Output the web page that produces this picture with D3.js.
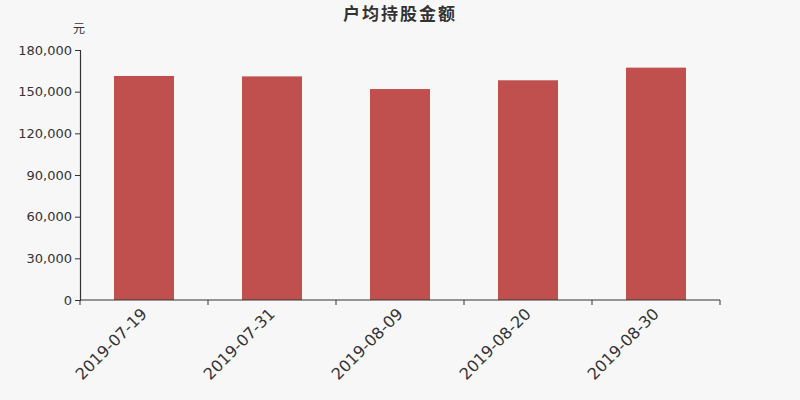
<!DOCTYPE html>
<html>
<head>
<meta charset="utf-8">
<script src="https://cdn.jsdelivr.net/npm/d3@7/dist/d3.min.js"></script>
<style>
body { margin: 0; background: #f7f7f7; }
svg { display: block; font-family: "DejaVu Sans", sans-serif; }
</style>
</head>
<body>
<svg></svg>
<script>
var dates = ["2019-07-19", "2019-07-31", "2019-08-09", "2019-08-20", "2019-08-30"]
var amounts = [161300, 161000, 151900, 158200, 167300]
var yTicks = [0, 30000, 60000, 90000, 120000, 150000, 180000]

var screen = {width: 800, height: 400}
var margin = {left: 80, right: 80, top: 50, bottom: 100}

var svg = d3.select("svg")
    .attr("width", screen.width)
    .attr("height", screen.height)

svg.append("rect")
    .attr("width", screen.width)
    .attr("height", screen.height)
    .attr("fill", "#f7f7f7")

var xScale = d3.scaleBand()
    .domain(dates)
    .range([margin.left, screen.width - margin.right])
    .paddingInner(0.53125)
    .paddingOuter(0.265625)

var yScale = d3.scaleLinear()
    .domain([0, 180000])
    .range([screen.height - margin.bottom, margin.top])

// bars
svg.selectAll("rect.bar")
    .data(amounts)
    .enter()
    .append("rect")
    .attr("class", "bar")
    .attr("x", function(d, i) { return xScale(dates[i]) })
    .attr("y", function(d) { return yScale(d) })
    .attr("width", xScale.bandwidth())
    .attr("height", function(d) { return yScale(0) - yScale(d) })
    .attr("fill", "#c0504e")

// y axis
var yAxis = svg.append("g")
    .attr("transform", "translate(" + margin.left + ",0)")
    .call(d3.axisLeft(yScale).tickValues(yTicks).tickSize(5).tickPadding(3).tickFormat(d3.format(",")))
yAxis.select(".domain").attr("stroke", "#333").attr("stroke-width", 1.2)
yAxis.selectAll(".tick line").attr("stroke", "#333")
yAxis.selectAll("text").attr("fill", "#333").attr("font-size", 13).attr("font-family", "DejaVu Sans")

// x axis with ticks on band edges
var xAxisG = svg.append("g")
    .attr("transform", "translate(0," + yScale(0) + ")")
xAxisG.append("line")
    .attr("x1", margin.left)
    .attr("x2", screen.width - margin.right)
    .attr("stroke", "#333")
    .attr("stroke-width", 1.2)
var edges = dates.map(function(d) { return xScale(d) - xScale.step() * xScale.paddingInner() / 2 })
edges.push(screen.width - margin.right)
xAxisG.selectAll("line.tk")
    .data(edges)
    .enter()
    .append("line")
    .attr("class", "tk")
    .attr("x1", function(d) { return d })
    .attr("x2", function(d) { return d })
    .attr("y1", 0)
    .attr("y2", 5)
    .attr("stroke", "#333")
xAxisG.selectAll("text")
    .data(dates)
    .enter()
    .append("text")
    .attr("transform", function(d) {
        return "translate(" + (xScale(d) + xScale.bandwidth() / 2) + ",11) rotate(-45)"
    })
    .attr("text-anchor", "end")
    .attr("dy", "0.35em")
    .attr("font-size", 16)
    .attr("fill", "#333")
    .text(function(d) { return d })

// title and unit
svg.append("text")
    .attr("x", screen.width / 2)
    .attr("y", 20)
    .attr("text-anchor", "middle")
    .attr("font-size", 17)
    .attr("font-weight", "bold")
    .attr("letter-spacing", 2)
    .attr("font-family", "Noto Sans CJK SC")
    .attr("fill", "#333")
    .text("户均持股金额")

svg.append("text")
    .attr("x", 79)
    .attr("y", 33)
    .attr("text-anchor", "middle")
    .attr("font-size", 12)
    .attr("font-family", "Noto Sans CJK SC")
    .attr("fill", "#333")
    .text("元")
</script>
</body>
</html>
